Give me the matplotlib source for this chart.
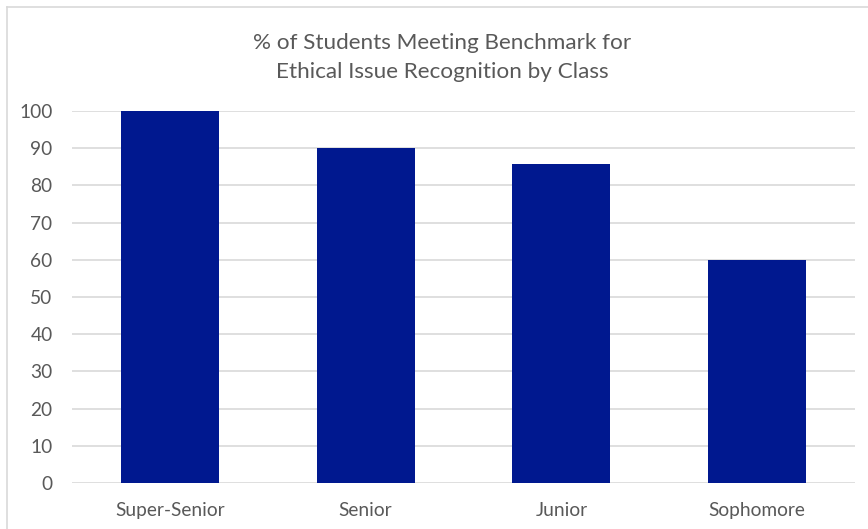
import matplotlib.pyplot as plt
import numpy as np
from matplotlib.lines import Line2D

classes = ["Super-Senior", "Senior", "Junior", "Sophomore"]
pct_meeting = [100, 90.1, 85.7, 60]
yticks = [0, 10, 20, 30, 40, 50, 60, 70, 80, 90, 100]

plt.rcParams['font.family'] = ['Lato', 'DejaVu Sans']
text_color = "#595959"

fig = plt.figure(figsize=(8.68, 5.29), dpi=100)
ax = fig.add_axes([72/868, 1 - 483/529, (855 - 72)/868, (483 - 111)/529])

index = np.arange(len(classes))
ax.bar(index, pct_meeting, width=0.5, color="#00188F", zorder=3)

ax.set_xlim(-0.5, len(classes) - 0.5)
ax.set_ylim(0, 100)
ax.set_yticks(yticks)
ax.set_xticks(index)
ax.set_xticklabels(classes)
ax.grid(axis='y', color="#D9D9D9", linewidth=1.2, zorder=0)
ax.tick_params(length=0, labelsize=13.8, colors=text_color)
ax.tick_params(axis='y', pad=14)
ax.tick_params(axis='x', pad=14)
for side in ax.spines:
    ax.spines[side].set_visible(False)

fig.text(442/868, 1 - 43/529, "% of Students Meeting Benchmark for",
         ha='center', va='center', fontsize=16.2, color=text_color)
fig.text(442/868, 1 - 72/529, "Ethical Issue Recognition by Class",
         ha='center', va='center', fontsize=16.2, color=text_color)

# light outer border (top and left only visible in the crop)
fig.add_artist(Line2D([7/868, 1], [1 - 7/529, 1 - 7/529], color="#D9D9D9", linewidth=1.2))
fig.add_artist(Line2D([7/868, 7/868], [0, 1 - 7/529], color="#D9D9D9", linewidth=1.2))

plt.savefig("out.png", format="png", dpi=100)
